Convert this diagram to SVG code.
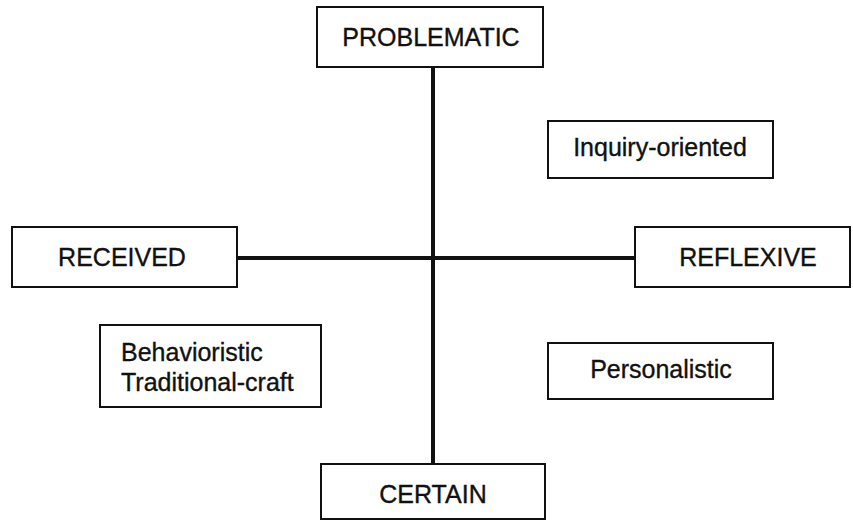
<svg xmlns="http://www.w3.org/2000/svg" width="853" height="521" viewBox="0 0 853 521">
  <style>
    .box { fill: #ffffff; stroke: #111111; stroke-width: 2; }
    .axis { stroke: #111111; stroke-width: 4; fill: none; }
    .lbl { font-family: "Liberation Sans", Arial, Helvetica, sans-serif; font-size: 25px; fill: #111111; stroke: #111111; stroke-width: 0.35; }
    .mid { text-anchor: middle; }
  </style>
  <rect width="853" height="521" fill="#ffffff"/>

  <!-- axes joining the four poles -->
  <g id="connectors">
    <line class="axis" x1="433" y1="67" x2="433" y2="464"/>
    <line class="axis" x1="237" y1="258" x2="635" y2="258"/>
  </g>

  <g id="problematic">
    <rect class="box" x="317" y="7" width="226" height="60"/>
    <text class="lbl mid" x="431" y="46">PROBLEMATIC</text>
  </g>

  <g id="received">
    <rect class="box" x="12" y="227" width="225" height="60"/>
    <text class="lbl mid" x="122" y="266">RECEIVED</text>
  </g>

  <g id="reflexive">
    <rect class="box" x="635" y="227" width="215" height="60"/>
    <text class="lbl mid" x="748" y="266">REFLEXIVE</text>
  </g>

  <g id="certain">
    <rect class="box" x="321" y="464" width="224" height="55"/>
    <text class="lbl mid" x="433" y="503">CERTAIN</text>
  </g>

  <g id="inquiry-oriented">
    <rect class="box" x="548" y="121" width="225" height="57"/>
    <text class="lbl mid" x="660" y="156">Inquiry-oriented</text>
  </g>

  <g id="personalistic">
    <rect class="box" x="548" y="343" width="225" height="56"/>
    <text class="lbl mid" x="661" y="378">Personalistic</text>
  </g>

  <g id="behavioristic-traditional">
    <rect class="box" x="100" y="325" width="221" height="82"/>
    <text class="lbl" x="121" y="361">Behavioristic</text>
    <text class="lbl" x="121" y="391">Traditional-craft</text>
  </g>
</svg>
